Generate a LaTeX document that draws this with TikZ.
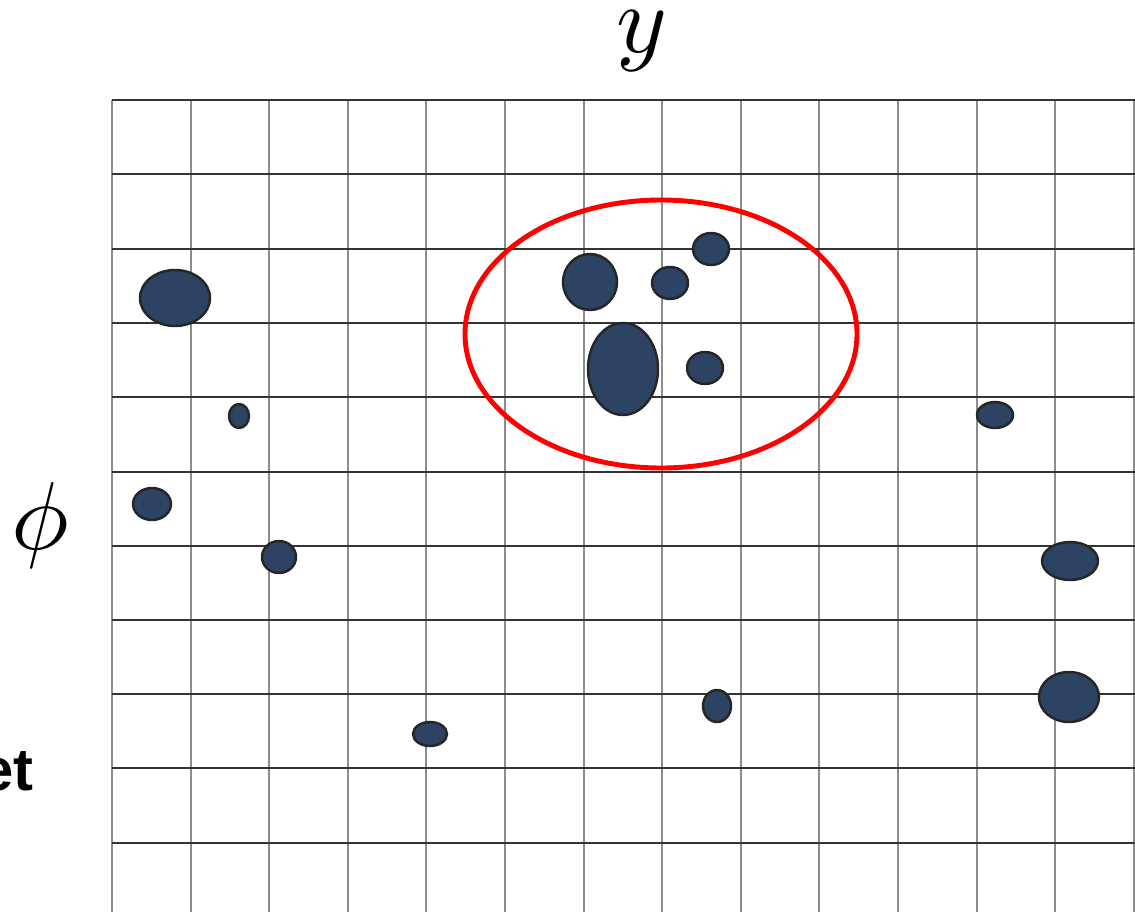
\documentclass[tikz,border=0pt]{standalone}
\usepackage{fontspec}
\setsansfont{Liberation Sans}
\definecolor{blobblue}{HTML}{2C4363}
\begin{document}
\begin{tikzpicture}[x=0.02cm, y=-0.02cm,
  gridh/.style={line width=0.04cm, black!80},
  gridv/.style={line width=0.04cm, black!45},
  blob/.style={fill=blobblue, draw=black!85, line width=1.4pt},
  ring/.style={draw=red, line width=2.8pt},
  axlab/.style={scale=5.5, inner sep=0pt}]
  \useasboundingbox (0,0) rectangle (1135,912);
  % grid
  \foreach \gx in {112,191,269,348,426,505,584,662,741,819,898,977,1055,1134}
    \draw[gridv] (\gx,100) -- (\gx,912);
  \foreach \gy in {100,174,249,323,397,472,546,620,694,768,843}
    \draw[gridh] (112,\gy) -- (1135,\gy);
  % axis labels
  \node[axlab] (ylab) at (642,41) {$y$};
  \node[axlab] (philab) at (40,525) {$\phi$};
  \node[anchor=base east, inner sep=0pt, font=\sffamily\bfseries\fontsize{34}{38}\selectfont] (etlab) at (34,790) {et};
  % scattered blobs
  \draw[blob] (175,298) ellipse [x radius=35, y radius=28];
  \draw[blob] (239,416) ellipse [x radius=10, y radius=12];
  \draw[blob] (152,504) ellipse [x radius=19, y radius=16];
  \draw[blob] (279,557) ellipse [x radius=17, y radius=16];
  \draw[blob] (430,734) ellipse [x radius=17, y radius=12];
  \draw[blob] (717,706) ellipse [x radius=14, y radius=16];
  \draw[blob] (995,415) ellipse [x radius=18, y radius=13];
  \draw[blob] (1070,561) ellipse [x radius=28, y radius=19];
  \draw[blob] (1069,697) ellipse [x radius=30, y radius=25];
  % cluster
  \draw[blob] (590,282) ellipse [x radius=27, y radius=28];
  \draw[blob] (670,283) ellipse [x radius=18, y radius=16];
  \draw[blob] (711,249) ellipse [x radius=18, y radius=16];
  \draw[blob] (623,369) ellipse [x radius=35, y radius=46];
  \draw[blob] (705,368) ellipse [x radius=18, y radius=16];
  \draw[ring] (661,334) ellipse [x radius=196, y radius=134];
\end{tikzpicture}
\end{document}
